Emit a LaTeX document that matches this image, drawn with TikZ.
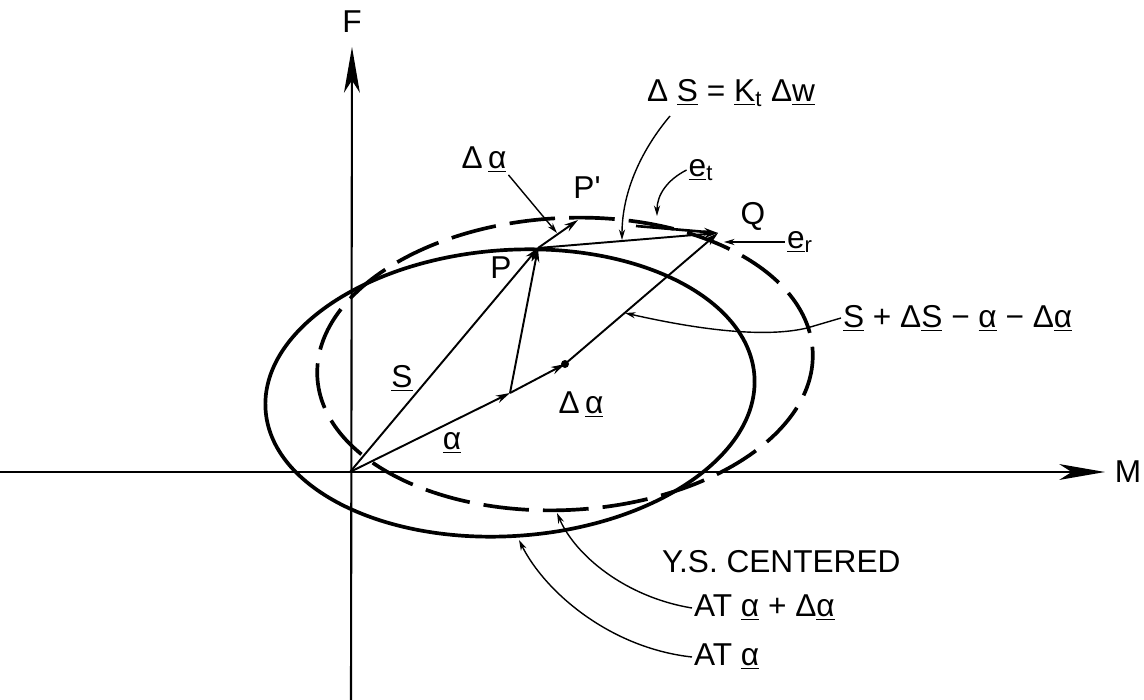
\documentclass[tikz,border=0pt]{standalone}
\usepackage{fontspec}
\setmainfont{Liberation Sans}
\usetikzlibrary{arrows.meta}
\newcommand{\uv}[1]{\underline{#1}}
\begin{document}
\begin{tikzpicture}[x=0.02cm, y=-0.02cm]
      %% Styles
      \tikzset
      {
      lbl/.style={font=\fontsize{18}{18}\selectfont, inner sep=1pt},
      axis/.style={line width=1.2pt, -{Stealth[length=26pt, width=9pt, inset=7pt]}},
      vec/.style={line width=1.1pt, -{Stealth[length=8pt, width=4.5pt]}},
      leader/.style={line width=0.8pt, -{Stealth[length=6pt, width=3.5pt]}},
      ys/.style={line width=2.1pt},
      ys new/.style={ys, dash pattern=on 26pt off 8pt},
      }
      \useasboundingbox (0,0) rectangle (1144,700);
      %% Points
      \coordinate (O) at (350,472);
      \coordinate (A) at (510,393);
      \coordinate (C) at (565,364);
      \coordinate (P) at (538,248);
      \coordinate (Pp) at (578,220);
      \coordinate (Q) at (718,233);
      \coordinate (Et) at (636,226);
      %% Axes
      \coordinate (Fbot) at (351,700);
      \coordinate (Ftop) at (352,47);
      \coordinate (Mleft) at (0,472);
      \coordinate (Mright) at (1105,472);
      \draw[axis] (Fbot) -- (Ftop);
      \draw[axis] (Mleft) -- (Mright);
      \node[lbl] (F) at (352,22) {F};
      \node[lbl] (M) at (1128,472) {M};
      %% Yield surfaces
      \draw[ys, rotate around={4:(A)}] (A) ellipse [x radius=245, y radius=143];
      \draw[ys new, rotate around={3:(C)}] (C) ellipse [x radius=248, y radius=146];
      %% Vectors
      \draw[vec] (O) -- (P);
      \draw[vec] (O) -- (A);
      \draw[vec] (A) -- (C);
      \draw[vec] (C) -- (Q);
      \draw[vec] (A) -- (P);
      \draw[vec] (P) -- (Pp);
      \draw[vec] (P) -- (Q);
      \draw[vec, line width=1.5pt] (Et) -- (Q);
      \fill (C) circle [radius=4];
      %% Point labels
      \node[lbl] (Plbl) at (501,268) {P};
      \node[lbl] (Pplbl) at (587,188) {P\textquotesingle};
      \node[lbl] (Qlbl) at (753,216) {Q};
      \node[lbl] (Slbl) at (402,378) {\uv{S}};
      \node[lbl] (albl) at (452,443) {\uv{α}};
      \node[lbl] (dalbl) at (581,405) {Δ\,\uv{α}};
      %% Leaders
      \node[lbl] (dAtop) at (484,160) {Δ\,\uv{α}};
      \coordinate (dAtip) at (557,233);
      \draw[leader] (dAtop.south east) -- (dAtip);
      \node[lbl, anchor=west] (dSlbl) at (645,93) {Δ \uv{S} = \uv{K}\textsubscript{t} Δ\uv{w}};
      \coordinate (dSfoot) at (670,116);
      \coordinate (dStip) at (622,240);
      \draw[leader] (dSfoot) .. controls (643,148) and (622,190) .. (dStip);
      \node[lbl] (etlbl) at (701,170) {\uv{e}\textsubscript{t}};
      \coordinate (ettip) at (657,216);
      \draw[leader] (etlbl.west) .. controls (667,180) and (657,195) .. (ettip);
      \node[lbl] (erlbl) at (800,242) {\uv{e}\textsubscript{r}};
      \coordinate (ertip) at (724,242);
      \draw[leader] (erlbl.west) -- (ertip);
      \node[lbl, anchor=west] (sumlbl) at (841,318) {\uv{S} + Δ\uv{S} − \uv{α} − Δ\uv{α}};
      \coordinate (sumkink) at (807,328);
      \coordinate (sumtip) at (625,313);
      \draw[leader] (sumlbl.west) -- (sumkink) .. controls (765,338) and (700,330) .. (sumtip);
      \node[lbl, anchor=west] (yslbl) at (660,562) {Y.S. CENTERED};
      \node[lbl, anchor=west] (newlbl) at (692,608) {AT \uv{α} + Δ\uv{α}};
      \coordinate (newtip) at (557,513);
      \draw[leader] (newlbl.west) .. controls (625,597) and (575,555) .. (newtip);
      \node[lbl, anchor=west] (oldlbl) at (692,657) {AT \uv{α}};
      \coordinate (oldtip) at (519,540);
      \draw[leader] (oldlbl.west) .. controls (610,648) and (545,592) .. (oldtip);
\end{tikzpicture}
\end{document}
